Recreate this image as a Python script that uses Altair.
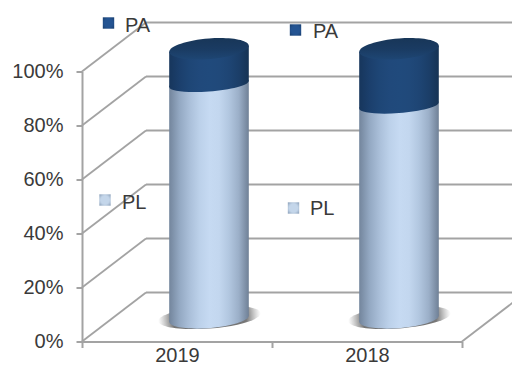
import altair as alt
import pandas as pd

# ---- values ----
years = ["2019", "2018"]
pl_share = [87, 79]
pa_share = [13, 21]
y_ticks = [0, 20, 40, 60, 80, 100]
x_ticks = [0, 0.5, 1, 1.5, 2]
legend_names = ["PA", "PA", "PL", "PL"]

# ---- 3D look: depth offset of the back wall, in scale units ----
DX, DY = 0.3368, 18.15
CX, CY = DX / 2, 8.4      # cylinder axis sits half way into the floor
HW = 0.2095               # cylinder half width
TILT = 1.11               # slant of the ellipses at the cylinder sides

FONT = "Liberation Sans"
TXT = "#3a3a3a"
AXIS = "#a3a3a3"
xs = alt.Scale(domain=[0, 2], nice=False, zero=False)
ys = alt.Scale(domain=[0, 100], nice=False, zero=False)

x_axis = alt.Axis(
    values=x_ticks, grid=False, tickSize=6, tickWidth=2, tickColor=AXIS,
    tickOpacity=alt.expr("datum.value % 1 == 0 ? 1 : 0"),
    domainColor=AXIS, domainWidth=2,
    labelExpr="datum.value == 0.5 ? '2019' : datum.value == 1.5 ? '2018' : ''",
    labelFont=FONT, labelFontSize=20, labelColor=TXT, labelPadding=-2,
    labelOverlap=False, labelFlush=False, title=None)
y_axis = alt.Axis(
    values=y_ticks, grid=False, tickSize=6, tickWidth=2, tickColor=AXIS,
    domainColor=AXIS, domainWidth=2,
    labelExpr="datum.value + '%'",
    labelFont=FONT, labelFontSize=20, labelColor=TXT, labelPadding=13,
    labelOverlap=False, title=None)


def grad(colors, horizontal=True):
    n = len(colors) - 1
    g = {"gradient": "linear", "x1": 0, "y1": 0,
         "x2": 1 if horizontal else 0, "y2": 0 if horizontal else 1,
         "stops": [{"offset": i / n, "color": c} for i, c in enumerate(colors)]}
    return g


def ellipse_path(b):
    k, a = 0.5523, 0.075
    ux, uy, vx, vy = 1, -a, 0, b
    p = [(ux, uy), (vx, vy), (-ux, -uy), (-vx, -vy), (ux, uy)]
    tang = [(vx, vy), (-ux, -uy), (-vx, -vy), (ux, uy)]
    s = f"M{p[0][0]},{p[0][1]}"
    for i in range(4):
        x0, y0 = p[i]
        x1, y1 = p[i + 1]
        tx, ty = tang[i]
        tx1, ty1 = tang[(i + 1) % 4]
        s += (f"C{x0 + k * tx:.4f},{y0 + k * ty:.4f} "
              f"{x1 - k * tx1:.4f},{y1 - k * ty1:.4f} {x1:.4f},{y1:.4f}")
    return s + "Z"


ELL_SIZE = 6320

LIGHT = ["#73859c", "#93a8c2", "#aabfd9", "#bcd1ea", "#c6daf2", "#c3d7ef", "#b2c7e0", "#9bafc8", "#6f8096"]
DARK = ["#17365c", "#1b3f6c", "#1e4676", "#20497b", "#204a7c", "#20497a", "#1e4574", "#1b3e68", "#163354"]
LIGHT_L, LIGHT_R = LIGHT[:5], LIGHT[4:]
DARK_L, DARK_R = DARK[:5], DARK[4:]

# ---- frames ----
grid_rows = []
for v in y_ticks:
    grid_rows.append({"x": 0, "x2": DX, "y": v, "y2": v + DY})
    grid_rows.append({"x": DX, "x2": 2 + DX, "y": v + DY, "y2": v + DY})
grid_rows.append({"x": 2, "x2": 2 + DX, "y": 0, "y2": DY})
grid_df = pd.DataFrame(grid_rows)

cyl = pd.DataFrame({"year": years, "pl": pl_share, "pa": pa_share})
cyl["c"] = [0.5 + CX + i for i in range(len(years))]
cyl["base"] = CY
cyl["mid"] = cyl["pl"] + CY
cyl["top"] = cyl["pl"] + cyl["pa"] + CY

x_enc = lambda f: alt.X(f"{f}:Q", scale=xs, axis=x_axis)
y_enc = lambda f: alt.Y(f"{f}:Q", scale=ys, axis=y_axis)

grid = alt.Chart(grid_df).mark_rule(color=AXIS, strokeWidth=1.8).encode(
    x=x_enc("x"), x2="x2:Q", y=y_enc("y"), y2="y2:Q")

# floor shadow
shadow_df = cyl.copy()
shadow_df["sx"] = shadow_df["c"] + 0.002
shadow_df["sy"] = shadow_df["base"] + 0.6
shadow = alt.Chart(shadow_df).mark_point(
    filled=True, opacity=1, strokeWidth=0, shape=ellipse_path(0.22), size=10500,
    fill={"gradient": "radial", "x1": 0.5, "y1": 0.5, "r1": 0, "x2": 0.5, "y2": 0.5, "r2": 0.5,
          "stops": [{"offset": 0, "color": "#6e6e6e"}, {"offset": 0.72, "color": "#777777"},
                    {"offset": 1, "color": "rgba(150,150,150,0)"}]},
).encode(x=x_enc("sx"), y=y_enc("sy"))


def ell_layer(field, fill, b):
    return alt.Chart(cyl).mark_point(
        filled=True, opacity=1, strokeWidth=0, shape=ellipse_path(b), size=ELL_SIZE, fill=fill
    ).encode(x=x_enc("c"), y=y_enc(field))


def half_bars(lo, hi, stops_l, stops_r):
    d = cyl.copy()
    d["xl"], d["xm"], d["xr"] = d["c"] - HW, d["c"], d["c"] + HW
    d["xm2"] = d["c"] + 0.004
    d["lo_l"], d["hi_l"] = d[lo] - TILT, d[hi] - TILT
    d["lo_r"], d["hi_r"] = d[lo] + TILT, d[hi] + TILT
    left = alt.Chart(d).mark_rect(fill=grad(stops_l), strokeWidth=0, opacity=1).encode(
        x=x_enc("xl"), x2="xm2:Q", y=y_enc("lo_l"), y2="hi_l:Q")
    right = alt.Chart(d).mark_rect(fill=grad(stops_r), strokeWidth=0, opacity=1).encode(
        x=x_enc("xm"), x2="xr:Q", y=y_enc("lo_r"), y2="hi_r:Q")
    return [left, right]


# ---- free floating series labels, placed in scale units ----
X0, XU, Y0, YU = 82, 190, 341.5, 2.7
to_x = lambda p: (p - X0) / XU
to_y = lambda p: (Y0 - p) / YU
legend_df = pd.DataFrame({
    "name": legend_names,
    "mx": [to_x(v) for v in [108.5, 295.5, 105, 293.5]],
    "my": [to_y(v) for v in [23, 30, 200, 208]],
    "tx": [to_x(v) for v in [125, 313, 122, 310]],
    "ty": [to_y(v) for v in [32, 38, 209, 215]],
})
rad = lambda inner, outer: {"gradient": "radial", "x1": 0.5, "y1": 0.5, "r1": 0, "x2": 0.5, "y2": 0.5, "r2": 0.75,
                            "stops": [{"offset": 0, "color": inner}, {"offset": 0.5, "color": inner},
                                      {"offset": 1, "color": outer}]}
mark_pa = alt.Chart(legend_df[legend_df.name == "PA"]).mark_point(
    shape="square", filled=True, opacity=1, strokeWidth=0, size=130,
    fill=rad("#245492", "#173a66")).encode(x=x_enc("mx"), y=y_enc("my"))
mark_pl = alt.Chart(legend_df[legend_df.name == "PL"]).mark_point(
    shape="square", filled=True, opacity=1, strokeWidth=0, size=130,
    fill=rad("#c4d6ea", "#7e93ad")).encode(x=x_enc("mx"), y=y_enc("my"))
labels = alt.Chart(legend_df).mark_text(
    align="left", baseline="alphabetic", font=FONT, fontSize=20, color=TXT
).encode(x=x_enc("tx"), y=y_enc("ty"), text="name:N")

layers = [grid, shadow, ell_layer("base", grad(LIGHT), 0.235)]
layers += half_bars("base", "mid", LIGHT_L, LIGHT_R)
layers += [ell_layer("mid", grad(DARK), 0.19)]
layers += half_bars("mid", "top", DARK_L, DARK_R)
layers += [ell_layer("top", grad(["#183658", "#1a3b62", "#1e4674"], horizontal=False), 0.26)]
layers += [mark_pa, mark_pl, labels]

chart = alt.layer(*layers).properties(
    width=380, height=270,
    padding={"left": 74, "top": 63.5, "right": 50, "bottom": 24.5},
    autosize=alt.AutoSizeParams(type="none"),
    background="white",
).configure_view(stroke=None)

chart.save("out.html", embed_options={"renderer": "svg", "actions": False})
